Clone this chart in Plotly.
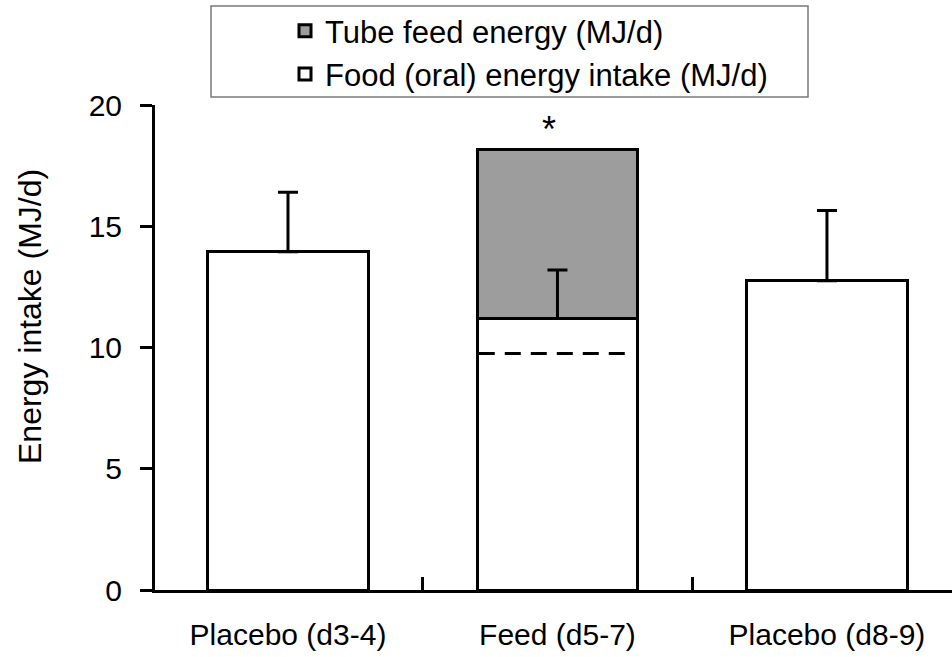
import plotly.graph_objects as go

# ---- data ----
CATEGORIES = ["Placebo (d3-4)", "Feed (d5-7)", "Placebo (d8-9)"]
ORAL_INTAKE = [13.95, 11.2, 12.75]          # Food (oral) energy intake (MJ/d)
ORAL_ERR = [2.45, 2.0, 2.9]                 # upward error (SD)
TUBE_FEED = [None, 6.95, None]              # Tube feed energy (MJ/d)
FEED_REFERENCE = [None, 9.75, None]         # dashed reference level inside Feed bar
SIGNIF = [None, "*", None]
Y_TICKS = [0, 5, 10, 15, 20]

# ---- layout constants ----
W, H = 952, 657
ML, MR, MT, MB = 155, 0, 105, 67
PW, PH = W - ML - MR, H - MT - MB
BAR_W = 0.594
XR = [-0.4935, 2.464]
FONT = "Liberation Sans, Arial, sans-serif"

def px_x(p):
    return (p - ML) / PW

def px_y(p):
    return (H - MB - p) / PH

xpos = list(range(len(CATEGORIES)))
mids = [(a + b) / 2 for a, b in zip(xpos[:-1], xpos[1:])]

fig = go.Figure()

fig.add_trace(go.Bar(
    x=xpos, y=ORAL_INTAKE, width=BAR_W,
    name="Food (oral) energy intake (MJ/d)",
    marker=dict(color="white", line=dict(color="black", width=3)),
))
fig.add_trace(go.Bar(
    x=xpos, y=TUBE_FEED, width=BAR_W,
    name="Tube feed energy (MJ/d)",
    marker=dict(color="#9d9d9d", line=dict(color="black", width=3)),
))

# error bars drawn above the stacked bars
fig.add_trace(go.Scatter(
    x=xpos, y=ORAL_INTAKE, mode="markers",
    marker=dict(size=1, opacity=0),
    error_y=dict(type="data", symmetric=False, array=ORAL_ERR,
                 arrayminus=[0] * len(ORAL_ERR), color="black",
                 thickness=3, width=10),
    showlegend=False, hoverinfo="skip",
))

# dashed reference line across the Feed bar
for i, v in enumerate(FEED_REFERENCE):
    if v is None:
        continue
    fig.add_trace(go.Scatter(
        x=[xpos[i] - BAR_W / 2 + 0.005, xpos[i] + BAR_W / 2 - 0.04],
        y=[v, v], mode="lines",
        line=dict(color="black", width=3, dash="16px,10px"),
        showlegend=False, hoverinfo="skip",
    ))

# significance marker
for i, s in enumerate(SIGNIF):
    if s is None:
        continue
    top = ORAL_INTAKE[i] + (TUBE_FEED[i] or 0)
    fig.add_annotation(x=xpos[i], y=top, text=s, showarrow=False,
                       xanchor="center", yanchor="bottom", yshift=-2, xshift=-8,
                       font=dict(size=36, color="black", family=FONT))

# y-axis title as rotated annotation
fig.add_annotation(xref="paper", yref="paper", x=px_x(30), y=px_y(316),
                   text="Energy intake (MJ/d)", textangle=-90, showarrow=False,
                   xanchor="center", yanchor="middle",
                   font=dict(size=32, color="black", family=FONT))

# legend frame
fig.add_shape(type="rect", xref="paper", yref="paper",
              x0=px_x(211), x1=px_x(808), y0=px_y(97), y1=px_y(6),
              line=dict(color="#7a7a7a", width=1.5), fillcolor="white", layer="below")

fig.update_layout(
    width=W, height=H,
    margin=dict(l=ML, r=MR, t=MT, b=MB, pad=0),
    barmode="stack",
    paper_bgcolor="white", plot_bgcolor="white",
    font=dict(family=FONT, color="black"),
    showlegend=True,
    legend=dict(
        x=px_x(285), xanchor="left", y=px_y(4), yanchor="top",
        bgcolor="rgba(0,0,0,0)", borderwidth=0,
        font=dict(size=31, family=FONT, color="black"),
        traceorder="reversed", itemclick=False, tracegroupgap=0,
    ),
    xaxis=dict(
        range=XR, tickmode="array", tickvals=xpos, ticktext=CATEGORIES,
        ticks="", showline=True, linecolor="black", linewidth=3,
        showgrid=False, zeroline=False,
        tickfont=dict(size=30, family=FONT, color="black"),
        ticklabelstandoff=16,
        minor=dict(tickmode="array", tickvals=mids, ticks="inside",
                   ticklen=13, tickwidth=3, tickcolor="black", showgrid=False),
    ),
    yaxis=dict(
        range=[0, 20], tickmode="array", tickvals=Y_TICKS,
        ticks="outside", ticklen=12, tickwidth=3, tickcolor="black",
        showline=True, linecolor="black", linewidth=3,
        showgrid=False, zeroline=False,
        tickfont=dict(size=30, family=FONT, color="black"),
        ticklabelstandoff=12,
    ),
)

fig.write_html(
    "out.html",
    config={"displayModeBar": False},
    post_script="document.body.style.margin='0';document.body.style.overflow='hidden';",
)
